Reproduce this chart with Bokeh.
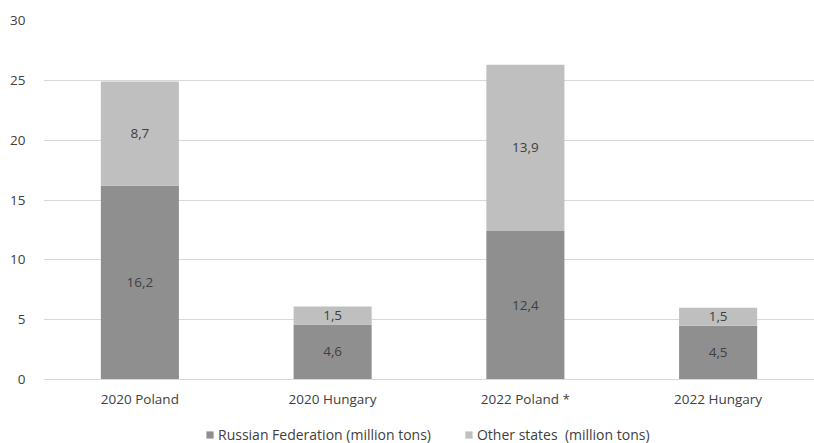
from bokeh.plotting import figure
from bokeh.layouts import column
from bokeh.models import ColumnDataSource, Legend, LegendItem, FactorRange, SingleIntervalTicker, Range1d
from bokeh.core.properties import value
from bokeh.embed import file_html
from bokeh.resources import INLINE

categories = ["2020 Poland", "2020 Hungary", "2022 Poland *", "2022 Hungary"]
russia = [16.2, 4.6, 12.4, 4.5]
other = [8.7, 1.5, 13.9, 1.5]
series_names = ["Russian Federation (million tons)", "Other states  (million tons)"]
colors = ["#8f8f8f", "#bfbfbf"]
FONT = "Open Sans"
TXT = "#404040"

def fmt(v):
    return f"{v:.1f}".replace(".", ",")

src = ColumnDataSource(dict(
    cat=categories,
    russia=russia,
    other=other,
    top=[r + o for r, o in zip(russia, other)],
    ry=[r / 2 for r in russia],
    oy=[r + o / 2 for r, o in zip(russia, other)],
    rlab=[fmt(v) for v in russia],
    olab=[fmt(v) for v in other],
))

p = figure(x_range=FactorRange(*categories, range_padding=0), y_range=(0, 30),
           frame_width=771, frame_height=359, output_backend="svg", toolbar_location=None,
           min_border_left=43, min_border_right=0, min_border_top=20, min_border_bottom=41)
p.outline_line_color = None
p.background_fill_color = "white"

r1 = p.vbar(x="cat", top="russia", bottom=0, width=0.405, source=src, color=colors[0], line_color=None)
r2 = p.vbar(x="cat", top="top", bottom="russia", width=0.405, source=src, color=colors[1], line_color=None)

p.text(x="cat", y="ry", text="rlab", source=src, text_align="center", text_baseline="middle",
       text_font=value(FONT), text_font_size="13.5px", text_color=TXT)
p.text(x="cat", y="oy", text="olab", source=src, text_align="center", text_baseline="middle",
       text_font=value(FONT), text_font_size="13.5px", text_color=TXT)

p.xgrid.grid_line_color = None
p.ygrid.grid_line_color = "#d9d9d9"
p.ygrid.grid_line_width = 1
p.yaxis.ticker = SingleIntervalTicker(interval=5)
p.axis.axis_line_color = None
p.axis.major_tick_line_color = None
p.axis.minor_tick_line_color = None
p.axis.major_label_text_font = FONT
p.axis.major_label_text_font_size = "13.5px"
p.axis.major_label_text_color = TXT
p.yaxis.major_label_standoff = 12
p.xaxis.major_label_standoff = 4
p.xaxis.axis_line_color = "#d9d9d9"

# legend strip below the chart (swatch renderers sit outside the visible range)
p2 = figure(x_range=Range1d(0, 1), y_range=Range1d(0, 1), frame_width=814, frame_height=23,
            output_backend="svg", toolbar_location=None, x_axis_location=None, y_axis_location=None,
            min_border_left=0, min_border_right=0, min_border_top=0, min_border_bottom=0)
p2.outline_line_color = None
p2.xgrid.visible = False
p2.ygrid.visible = False
swatch = ColumnDataSource(dict(x=[-5.0], top=[-5.0]))
l1 = p2.vbar(x="x", top="top", bottom=-6.0, width=0.1, source=swatch, color=colors[0], line_color=None)
l2 = p2.vbar(x="x", top="top", bottom=-6.0, width=0.1, source=swatch, color=colors[1], line_color=None)

legend = Legend(items=[LegendItem(label=series_names[0], renderers=[l1]),
                       LegendItem(label=series_names[1], renderers=[l2])],
                orientation="horizontal", location=(205, -1),
                label_text_font=FONT, label_text_font_size="14px", label_text_color=TXT,
                glyph_width=9, glyph_height=9, spacing=33, label_standoff=4,
                border_line_color=None, background_fill_alpha=0, padding=0, margin=0)
p2.add_layout(legend, "center")

layout = column(p, p2, spacing=0)
open("out.html", "w").write(file_html(layout, INLINE))
